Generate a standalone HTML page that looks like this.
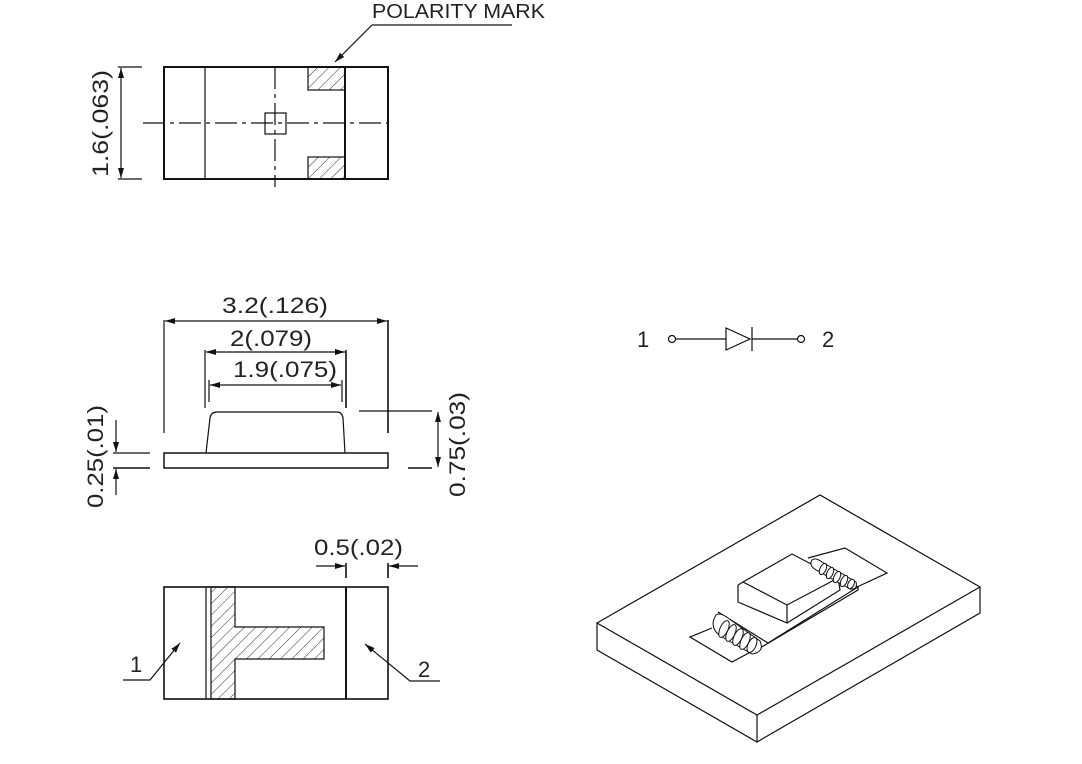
<!DOCTYPE html>
<html><head><meta charset="utf-8"><style>
html,body{margin:0;padding:0;background:#fff;}
svg{display:block;}
text{font-family:"Liberation Sans",sans-serif;fill:#222;}
</style></head><body>
<svg width="1082" height="764" viewBox="0 0 1082 764" xmlns="http://www.w3.org/2000/svg">
<defs>
<pattern id="h" patternUnits="userSpaceOnUse" width="8" height="8" patternTransform="rotate(45)">
<line x1="0" y1="0" x2="0" y2="8" stroke="#333" stroke-width="1"/>
</pattern>
<marker id="a" viewBox="0 0 10 6" refX="10" refY="3" markerWidth="10" markerHeight="6" orient="auto-start-reverse" markerUnits="userSpaceOnUse">
<path d="M0,0 L10,3 L0,6 z" fill="#111"/>
</marker>
</defs>
<g stroke="#111" fill="none" stroke-width="1.2">
<!-- TOP VIEW -->
<rect x="308" y="67" width="37" height="23" fill="url(#h)"/>
<rect x="308" y="157" width="37" height="22" fill="url(#h)"/>
<rect x="164" y="67" width="224" height="112" stroke-width="2"/>
<line x1="205" y1="67" x2="205" y2="179"/>
<line x1="345" y1="67" x2="345" y2="179" stroke-width="2"/>
<rect x="265" y="113" width="21" height="21"/>
<line x1="143" y1="123" x2="388" y2="123" stroke-dasharray="22,5,4,5"/>
<line x1="275" y1="67" x2="275" y2="187" stroke-dasharray="22,5,4,5"/>
<line x1="118" y1="67" x2="142" y2="67"/>
<line x1="118" y1="179" x2="142" y2="179"/>
<line x1="121" y1="68" x2="121" y2="178" marker-start="url(#a)" marker-end="url(#a)"/>
<line x1="372" y1="25" x2="512" y2="25"/>
<line x1="372" y1="25" x2="335" y2="62" marker-end="url(#a)"/>

<!-- SIDE VIEW -->
<rect x="164" y="453" width="224" height="15" stroke-width="1.5"/>
<path d="M206,453 L210,418 Q211,412 217,412 L337,412 Q342,412 343,418 L345,453"/>
<line x1="164" y1="320" x2="164" y2="433"/>
<line x1="388" y1="320" x2="388" y2="433" stroke-width="1.6"/>
<line x1="165" y1="321" x2="387" y2="321" marker-start="url(#a)" marker-end="url(#a)"/>
<line x1="205" y1="350" x2="205" y2="408"/>
<line x1="346" y1="350" x2="346" y2="408" stroke-width="1.6"/>
<line x1="206" y1="352" x2="345" y2="352" marker-start="url(#a)" marker-end="url(#a)"/>
<line x1="209" y1="380" x2="209" y2="402"/>
<line x1="342" y1="380" x2="342" y2="402"/>
<line x1="210" y1="385" x2="341" y2="385" marker-start="url(#a)" marker-end="url(#a)"/>
<line x1="359" y1="411" x2="432" y2="411"/>
<line x1="408" y1="468" x2="432" y2="468" stroke-width="1.6"/>
<line x1="438" y1="412" x2="438" y2="467" marker-start="url(#a)" marker-end="url(#a)"/>
<line x1="113" y1="453" x2="150" y2="453"/>
<line x1="113" y1="468" x2="150" y2="468" stroke-width="1.6"/>
<line x1="116" y1="420" x2="116" y2="452" marker-end="url(#a)"/>
<line x1="116" y1="495" x2="116" y2="469" marker-end="url(#a)"/>

<!-- BOTTOM VIEW -->
<path d="M211,587 L235,587 L235,627 L324,627 L324,659 L235,659 L235,699 L211,699 Z" fill="url(#h)"/>
<rect x="164" y="587" width="224" height="112" stroke-width="1.6"/>
<line x1="206" y1="587" x2="206" y2="699"/>
<line x1="346" y1="587" x2="346" y2="699" stroke-width="2"/>
<line x1="346" y1="563" x2="346" y2="578" stroke-width="1.6"/>
<line x1="388" y1="563" x2="388" y2="578" stroke-width="1.6"/>
<line x1="316" y1="566" x2="345" y2="566" marker-end="url(#a)"/>
<line x1="418" y1="566" x2="389" y2="566" marker-end="url(#a)"/>
<polyline points="123,680 150,680 180,643" marker-end="url(#a)"/>
<polyline points="440,681 410,681 365,644" marker-end="url(#a)"/>

<!-- DIODE -->
<circle cx="672" cy="339" r="3.5"/>
<line x1="675" y1="339" x2="726" y2="339"/>
<path d="M726,328 L750,339 L726,350 Z"/>
<line x1="752" y1="327" x2="752" y2="351"/>
<line x1="752" y1="339" x2="797" y2="339"/>
<circle cx="801" cy="339" r="3.5"/>

<!-- ISO -->
<path d="M597,623 L820,495 L980,587 L757,715 Z"/>
<path d="M597,623 L597,650 L757,742 L980,613 L980,587"/>
<line x1="757" y1="715" x2="757" y2="742"/>
<path d="M712,628 L690,637 L732,662 L758,648"/>
<path d="M808,558 L845,548 L887,573 L857,587"/>
<path d="M718,612 L768,643 L858,587 L838,578"/>
<path d="M716,622 L760,648 L858,590 L858,587"/>
<path d="M743,582 L792,554 L838,578 L787,605 Z"/>
<path d="M738,585 L738,602 L787,623 L787,605 M787,623 L840,590 L838,578"/>
<path d="M738,585 L743,582"/>
<g stroke-width="1" fill="#fff">
<path d="M716,615 Q708,628 722,637 L752,654 Q765,652 760,641 L728,618 Q720,612 716,615 Z"/>
<ellipse cx="724" cy="629" rx="4" ry="9" transform="rotate(25 724 629)"/>
<ellipse cx="731" cy="633" rx="4" ry="9" transform="rotate(25 731 633)"/>
<ellipse cx="738" cy="637" rx="4" ry="9" transform="rotate(25 738 637)"/>
<ellipse cx="745" cy="641" rx="4" ry="9" transform="rotate(25 745 641)"/>
<ellipse cx="752" cy="645" rx="4" ry="8" transform="rotate(25 752 645)"/>
<path d="M812,560 Q808,566 818,571 L850,589 Q858,590 856,582 L822,562 Q815,557 812,560 Z"/>
<ellipse cx="823" cy="569" rx="3" ry="6" transform="rotate(25 823 569)"/>
<ellipse cx="830" cy="573" rx="3" ry="6" transform="rotate(25 830 573)"/>
<ellipse cx="837" cy="577" rx="3" ry="6" transform="rotate(25 837 577)"/>
<ellipse cx="844" cy="581" rx="3" ry="6" transform="rotate(25 844 581)"/>
<ellipse cx="851" cy="584" rx="3" ry="5" transform="rotate(25 851 584)"/>
</g>
</g>
<g font-size="22">
<text x="372" y="18" textLength="173" lengthAdjust="spacingAndGlyphs" font-size="20">POLARITY  MARK</text>
<text x="222" y="313" textLength="106" lengthAdjust="spacingAndGlyphs">3.2(.126)</text>
<text x="230" y="346" textLength="82" lengthAdjust="spacingAndGlyphs">2(.079)</text>
<text x="233" y="377" textLength="104" lengthAdjust="spacingAndGlyphs">1.9(.075)</text>
<text x="314" y="555" textLength="89" lengthAdjust="spacingAndGlyphs">0.5(.02)</text>
<text x="130" y="672">1</text>
<text x="418" y="677">2</text>
<text x="637" y="347">1</text>
<text x="822" y="347">2</text>
<text transform="translate(108,177) rotate(-90)" textLength="107" lengthAdjust="spacingAndGlyphs">1.6(.063)</text>
<text transform="translate(103,508) rotate(-90)" textLength="103" lengthAdjust="spacingAndGlyphs">0.25(.01)</text>
<text transform="translate(465,497) rotate(-90)" textLength="105" lengthAdjust="spacingAndGlyphs">0.75(.03)</text>
</g>
</svg>
</body></html>
